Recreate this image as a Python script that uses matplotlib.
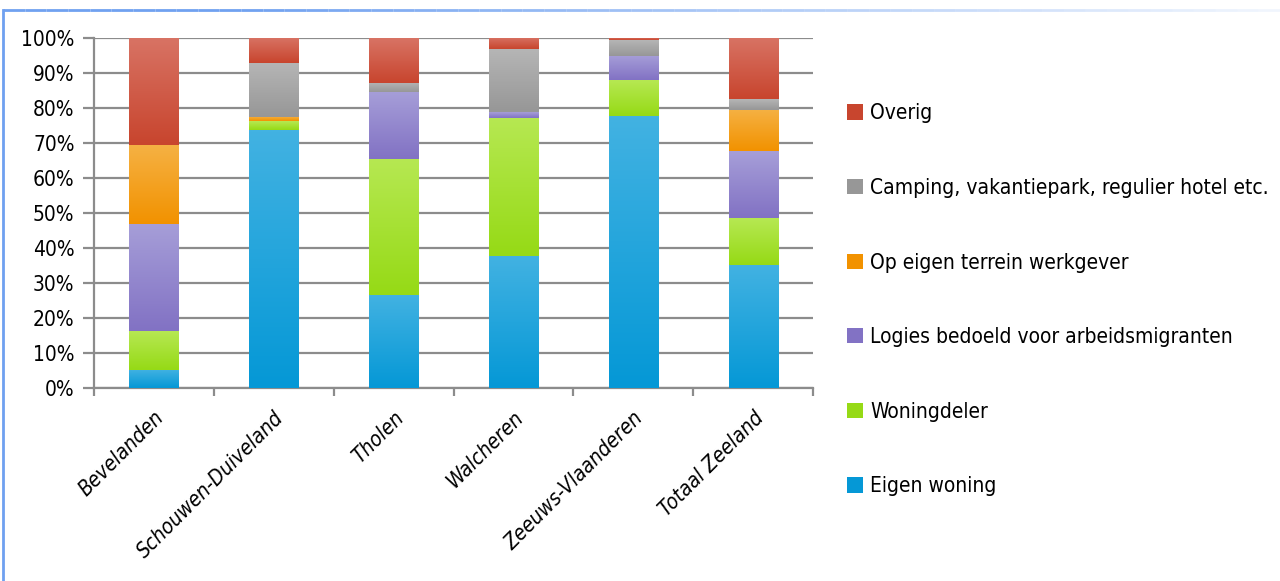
import numpy as np
import matplotlib.pyplot as plt
from matplotlib.colors import LinearSegmentedColormap
from matplotlib.collections import LineCollection
from matplotlib.patches import Patch

# Regio's en huisvestingsvormen (aandeel in %)
regios = ['Bevelanden', 'Schouwen-Duiveland', 'Tholen', 'Walcheren',
          'Zeeuws-Vlaanderen', 'Totaal Zeeland']

eigen_woning = [5.2, 73.8, 26.6, 37.7, 77.7, 35.2]
woningdeler = [11.1, 2.4, 38.8, 39.5, 10.2, 13.4]
logies = [30.7, 0.0, 19.2, 1.7, 6.9, 19.0]
terrein_werkgever = [22.4, 1.2, 0.0, 0.0, 0.0, 11.8]
camping = [0.0, 15.4, 2.6, 17.9, 4.5, 3.0]
overig = [30.6, 7.2, 12.8, 3.2, 0.7, 17.6]

reeksen = [
    ('Eigen woning', eigen_woning, '#42b2e2', '#0598d6'),
    ('Woningdeler', woningdeler, '#b6e852', '#96da16'),
    ('Logies bedoeld voor arbeidsmigranten', logies, '#a69ed8', '#8272c4'),
    ('Op eigen terrein werkgever', terrein_werkgever, '#f5b143', '#f29200'),
    ('Camping, vakantiepark, regulier hotel etc.', camping, '#b5b5b5', '#979797'),
    ('Overig', overig, '#d87364', '#c8452e'),
]

plt.rcParams['font.family'] = ['DejaVu Sans']
plt.rcParams['font.stretch'] = 'condensed'

fig = plt.figure(figsize=(12.8, 5.81), dpi=100)
ax = fig.add_axes([94 / 1280, 1 - 388.3 / 581, 719 / 1280, 350.6 / 581])

x = np.arange(len(regios))
onder = np.zeros(len(regios))
grad = np.linspace(0, 1, 64).reshape(-1, 1)
for naam, waarden, licht, donker in reeksen:
    waarden = np.array(waarden)
    bars = ax.bar(x, waarden, 0.41, bottom=onder, color=donker, label=naam,
                  zorder=2, linewidth=0)
    # verloop van licht (boven) naar donker (onder) per segment
    cmap = LinearSegmentedColormap.from_list(naam, [donker, licht])
    for b in bars:
        if b.get_height() <= 0:
            continue
        x0, y0 = b.get_x(), b.get_y()
        im = ax.imshow(grad, cmap=cmap, origin='lower', aspect='auto',
                       extent=[x0, x0 + b.get_width(), y0, y0 + b.get_height()],
                       zorder=3, interpolation='bicubic')
        im.set_clip_path(b)
    onder += waarden

ax.set_xlim(-0.5, len(regios) - 0.5)
ax.set_ylim(0, 100)
ax.set_yticks(np.arange(0, 101, 10))
ax.set_yticklabels([f'{v}%' for v in range(0, 101, 10)], fontsize=15)
ax.yaxis.grid(True, color='#8c8c8c', linewidth=1.6, zorder=1)
ax.set_axisbelow(True)

ax.set_xticks(x)
ax.set_xticklabels(regios, rotation=45, ha='right', rotation_mode='anchor',
                   fontsize=15, fontstyle='italic')
ax.set_xticks(np.arange(-0.5, len(regios)), minor=True)
ax.tick_params(axis='x', which='major', length=0, pad=14)
ax.tick_params(axis='x', which='minor', length=6, width=1.6, color='#8c8c8c')
ax.tick_params(axis='y', length=8, width=1.6, color='#8c8c8c', pad=6)

for s in ['top', 'right']:
    ax.spines[s].set_visible(False)
for s in ['left', 'bottom']:
    ax.spines[s].set_color('#8c8c8c')
    ax.spines[s].set_linewidth(1.6)

handles = [Patch(facecolor=r[3], label=r[0]) for r in reversed(reeksen)]
fig.legend(handles=handles, loc='upper left', bbox_to_anchor=(839 / 1280, 1 - 95 / 581),
           frameon=False, fontsize=15, handlelength=0.75, handleheight=0.75,
           handletextpad=0.35, labelspacing=2.62, borderaxespad=0)

# lichtblauwe kaderlijn links en boven
fig.add_artist(plt.Line2D([3 / 1280, 3 / 1280], [0, 1 - 10 / 581],
                          transform=fig.transFigure, color='#6fa0f0', linewidth=2))
xs = np.linspace(3, 1280, 60) / 1280
segs = [[(xs[i], 1 - 10 / 581), (xs[i + 1], 1 - 10 / 581)] for i in range(len(xs) - 1)]
alphas = np.clip(1.2 - np.linspace(0, 1.1, len(segs)), 0.05, 1)
cols = [(0.44, 0.63, 0.94, a) for a in alphas]
fig.add_artist(LineCollection(segs, colors=cols, linewidths=2, transform=fig.transFigure))

fig.savefig('out.png', dpi=100, facecolor='white')
